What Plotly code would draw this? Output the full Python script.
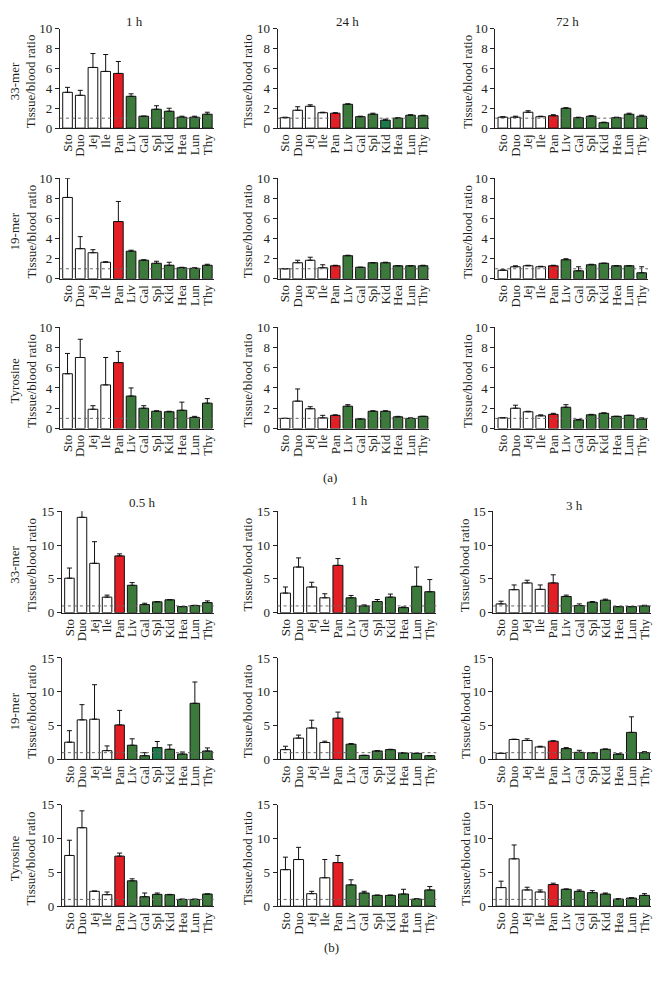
import plotly.graph_objects as go

categories = ["Sto", "Duo", "Jej", "Ile", "Pan", "Liv", "Gal", "Spl", "Kid", "Hea", "Lun", "Thy"]
time_labels_a = ["1 h", "24 h", "72 h"]
time_labels_b = ["0.5 h", "1 h", "3 h"]
compounds = ["33-mer", "19-mer", "Tyrosine"]
yticks_a = [0, 2, 4, 6, 8, 10]
yticks_b = [0, 5, 10, 15]

# ---------- (a) ----------
a_33mer_1h = [3.6, 3.3, 6.1, 5.7, 5.5, 3.2, 1.2, 1.9, 1.7, 1.1, 1.1, 1.4]
a_33mer_1h_err = [0.5, 0.5, 1.4, 1.7, 1.2, 0.25, 0.0, 0.35, 0.3, 0.1, 0.1, 0.2]
a_33mer_24h = [1.05, 1.8, 2.2, 1.55, 1.5, 2.4, 1.15, 1.4, 0.8, 1.0, 1.3, 1.25]
a_33mer_24h_err = [0.05, 0.35, 0.15, 0.05, 0.05, 0.05, 0.05, 0.1, 0.1, 0.05, 0.05, 0.05]
a_33mer_72h = [1.1, 1.1, 1.6, 1.15, 1.25, 2.0, 1.05, 1.2, 0.55, 1.05, 1.4, 1.2]
a_33mer_72h_err = [0.05, 0.1, 0.15, 0.05, 0.1, 0.05, 0.05, 0.05, 0.05, 0.05, 0.1, 0.1]

a_19mer_1h = [8.1, 3.0, 2.6, 1.65, 5.7, 2.75, 1.85, 1.55, 1.35, 1.1, 1.05, 1.35]
a_19mer_1h_err = [1.9, 1.2, 0.3, 0.05, 2.0, 0.1, 0.05, 0.2, 0.3, 0.05, 0.05, 0.1]
a_19mer_24h = [1.0, 1.6, 1.85, 1.1, 1.3, 2.3, 1.15, 1.6, 1.6, 1.3, 1.3, 1.3]
a_19mer_24h_err = [0.0, 0.25, 0.3, 0.3, 0.05, 0.05, 0.0, 0.0, 0.05, 0.0, 0.0, 0.05]
a_19mer_72h = [0.85, 1.2, 1.3, 1.2, 1.3, 1.9, 0.8, 1.4, 1.55, 1.3, 1.3, 0.6]
a_19mer_72h_err = [0.05, 0.1, 0.05, 0.05, 0.05, 0.1, 0.4, 0.05, 0.0, 0.0, 0.0, 0.6]

a_tyr_1h = [5.4, 7.0, 1.9, 4.3, 6.5, 3.2, 2.0, 1.7, 1.65, 1.8, 1.1, 2.5]
a_tyr_1h_err = [2.0, 1.8, 0.35, 2.7, 1.1, 0.8, 0.25, 0.05, 0.05, 0.8, 0.1, 0.45]
a_tyr_24h = [1.0, 2.7, 1.95, 1.05, 1.3, 2.2, 0.95, 1.7, 1.7, 1.15, 1.0, 1.2]
a_tyr_24h_err = [0.0, 1.2, 0.2, 0.25, 0.05, 0.15, 0.0, 0.05, 0.05, 0.05, 0.05, 0.0]
a_tyr_72h = [1.05, 2.0, 1.65, 1.25, 1.4, 2.1, 0.85, 1.35, 1.5, 1.2, 1.3, 0.95]
a_tyr_72h_err = [0.0, 0.3, 0.05, 0.1, 0.1, 0.25, 0.05, 0.05, 0.05, 0.0, 0.0, 0.1]

# ---------- (b) ----------
b_33mer_05h = [5.1, 14.1, 7.3, 2.3, 8.4, 4.05, 1.2, 1.6, 1.9, 0.9, 1.05, 1.5]
b_33mer_05h_err = [1.5, 1.0, 3.2, 0.3, 0.3, 0.4, 0.2, 0.05, 0.05, 0.0, 0.05, 0.25]
b_33mer_1h = [2.9, 6.75, 3.8, 2.2, 7.0, 2.2, 1.0, 1.65, 2.3, 0.75, 3.9, 3.1]
b_33mer_1h_err = [0.9, 1.35, 0.7, 0.6, 1.0, 0.35, 0.15, 0.3, 0.45, 0.1, 2.85, 1.8]
b_33mer_3h = [1.3, 3.4, 4.4, 3.45, 4.4, 2.4, 1.05, 1.55, 1.85, 0.9, 0.9, 1.0]
b_33mer_3h_err = [0.4, 0.7, 0.4, 0.65, 1.2, 0.2, 0.25, 0.1, 0.15, 0.0, 0.0, 0.1]

b_19mer_05h = [2.55, 5.85, 5.95, 1.3, 5.1, 2.1, 0.55, 1.75, 1.5, 0.8, 8.3, 1.25]
b_19mer_05h_err = [1.7, 2.25, 5.1, 0.7, 2.15, 0.95, 0.45, 0.9, 0.65, 0.3, 3.15, 0.45]
b_19mer_1h = [1.45, 3.15, 4.65, 2.5, 6.1, 2.25, 0.6, 1.25, 1.45, 0.95, 0.9, 0.55]
b_19mer_1h_err = [0.5, 0.45, 1.15, 0.2, 0.9, 0.1, 0.0, 0.05, 0.05, 0.05, 0.0, 0.0]
b_19mer_3h = [0.9, 2.95, 2.8, 1.85, 2.7, 1.6, 1.05, 1.0, 1.5, 0.8, 4.0, 1.0]
b_19mer_3h_err = [0.0, 0.05, 0.25, 0.1, 0.05, 0.15, 0.3, 0.0, 0.05, 0.0, 2.3, 0.15]

b_tyr_05h = [7.5, 11.6, 2.2, 1.7, 7.4, 3.75, 1.4, 1.75, 1.7, 1.0, 1.0, 1.8]
b_tyr_05h_err = [2.25, 2.5, 0.05, 0.4, 0.45, 0.3, 0.55, 0.2, 0.05, 0.05, 0.05, 0.0]
b_tyr_1h = [5.4, 6.9, 1.85, 4.2, 6.45, 3.15, 1.95, 1.6, 1.6, 1.8, 1.05, 2.4]
b_tyr_1h_err = [1.85, 1.8, 0.35, 2.7, 1.05, 0.75, 0.25, 0.05, 0.05, 0.7, 0.05, 0.5]
b_tyr_3h = [2.75, 7.0, 2.4, 2.1, 3.2, 2.5, 2.2, 2.0, 1.8, 1.05, 1.2, 1.6]
b_tyr_3h_err = [0.95, 2.05, 0.4, 0.3, 0.2, 0.05, 0.2, 0.3, 0.15, 0.05, 0.05, 0.25]

panels = [
    # (values, errors, section, row, col)
    (a_33mer_1h, a_33mer_1h_err, "a", 0, 0),
    (a_33mer_24h, a_33mer_24h_err, "a", 0, 1),
    (a_33mer_72h, a_33mer_72h_err, "a", 0, 2),
    (a_19mer_1h, a_19mer_1h_err, "a", 1, 0),
    (a_19mer_24h, a_19mer_24h_err, "a", 1, 1),
    (a_19mer_72h, a_19mer_72h_err, "a", 1, 2),
    (a_tyr_1h, a_tyr_1h_err, "a", 2, 0),
    (a_tyr_24h, a_tyr_24h_err, "a", 2, 1),
    (a_tyr_72h, a_tyr_72h_err, "a", 2, 2),
    (b_33mer_05h, b_33mer_05h_err, "b", 0, 0),
    (b_33mer_1h, b_33mer_1h_err, "b", 0, 1),
    (b_33mer_3h, b_33mer_3h_err, "b", 0, 2),
    (b_19mer_05h, b_19mer_05h_err, "b", 1, 0),
    (b_19mer_1h, b_19mer_1h_err, "b", 1, 1),
    (b_19mer_3h, b_19mer_3h_err, "b", 1, 2),
    (b_tyr_05h, b_tyr_05h_err, "b", 2, 0),
    (b_tyr_1h, b_tyr_1h_err, "b", 2, 1),
    (b_tyr_3h, b_tyr_3h_err, "b", 2, 2),
]

# ---------- styling / layout ----------
W, H = 660, 991
FONT = "Liberation Serif, Times New Roman, serif"
FS = 13
TXT = "#231f20"
WHITE, RED, GREEN, TEAL = "#ffffff", "#e31e24", "#3c7a3c", "#1e7a4a"
base_colors = [WHITE] * 4 + [RED] + [GREEN] * 7
alt_colors = {(1, 8): TEAL, (12, 7): TEAL}

cols_px = {"a": [(60, 214), (278, 430), (496, 649)],
           "b": [(62, 214), (278, 437), (494, 652)]}
rows_px = {"a": [(22, 123), (174, 276), (325, 428)],
           "b": [(512, 615), (661, 764), (810, 913)]}
ytitle_x = {"a": [23, 248, 468], "b": [23, 248, 466]}

fig = go.Figure()
layout = dict(
    width=W, height=H, margin=dict(l=0, r=0, t=0, b=0),
    paper_bgcolor="white", plot_bgcolor="white",
    showlegend=False, bargap=0.24,
    font=dict(family=FONT, size=FS, color=TXT),
)
annotations = []
shapes = []

for i, (vals, errs, sec, r, c) in enumerate(panels):
    n = i + 1
    xa = "x" if n == 1 else f"x{n}"
    ya = "y" if n == 1 else f"y{n}"
    colors = [alt_colors.get((i, k), base_colors[k]) for k in range(len(categories))]
    fig.add_trace(go.Bar(
        x=categories, y=vals, xaxis=xa, yaxis=ya,
        marker=dict(color=colors, line=dict(color="#111111", width=1)),
        error_y=dict(type="data", array=errs, arrayminus=[0] * len(errs),
                     symmetric=False, color="#111111", thickness=1, width=2.5),
        cliponaxis=True, hoverinfo="skip",
    ))
    x0, x1 = cols_px[sec][c]
    y0, y1 = rows_px[sec][r]
    yt = yticks_a if sec == "a" else yticks_b
    layout["xaxis" if n == 1 else f"xaxis{n}"] = dict(
        domain=[x0 / W, x1 / W], anchor=ya, range=[-0.6, 11.5],
        type="category", tickmode="array", tickvals=categories, ticktext=categories,
        showline=True, linecolor="#222", linewidth=1, ticks="",
        tickangle=-90, tickfont=dict(family=FONT, size=FS, color=TXT),
        showgrid=False, zeroline=False, fixedrange=True,
        categoryorder="array", categoryarray=categories,
    )
    layout["yaxis" if n == 1 else f"yaxis{n}"] = dict(
        domain=[1 - y1 / H, 1 - y0 / H], anchor=xa, range=[0, yt[-1]],
        tickvals=yt, showline=True, linecolor="#222", linewidth=1,
        ticks="outside", ticklen=4, tickcolor="#222",
        tickfont=dict(family=FONT, size=FS, color=TXT),
        showgrid=False, zeroline=False, fixedrange=True,
    )
    # dotted reference line at ratio = 1
    shapes.append(dict(type="line", xref=f"{xa} domain", yref=ya,
                       x0=0, x1=1, y0=1, y1=1,
                       line=dict(color="#666", width=1, dash="dot")))
    # y title
    ttl = "Tissue/blood ratio"
    if c == 0:
        ttl = compounds[r] + "<br>" + ttl
    annotations.append(dict(
        text=ttl, textangle=-90, xref="paper", yref="paper",
        x=ytitle_x[sec][c] / W, y=1 - ((y0 + y1) / 2 + 3) / H,
        xanchor="center", yanchor="middle", showarrow=False,
        font=dict(family=FONT, size=FS, color=TXT),
    ))

# column headers
header_pos = {"a": [(135, 15), (348, 15), (568, 15)],
              "b": [(143, 503), (360, 501), (575, 506)]}
for sec, labels in (("a", time_labels_a), ("b", time_labels_b)):
    for (px, py), lab in zip(header_pos[sec], labels):
        annotations.append(dict(text=lab, xref="paper", yref="paper",
                                x=px / W, y=1 - py / H, xanchor="center", yanchor="middle",
                                showarrow=False, font=dict(family=FONT, size=FS, color=TXT)))

# panel letters
for lab, px, py in (("(a)", 330, 478), ("(b)", 332, 955)):
    annotations.append(dict(text=lab, xref="paper", yref="paper",
                            x=px / W, y=1 - py / H, xanchor="center", yanchor="middle",
                            showarrow=False, font=dict(family=FONT, size=FS, color=TXT)))

layout["annotations"] = annotations
layout["shapes"] = shapes
fig.update_layout(**layout)
fig.write_html("out.html", config={"displayModeBar": False, "staticPlot": True},
               post_script="document.body.style.margin='0';document.body.style.overflow='hidden';")
